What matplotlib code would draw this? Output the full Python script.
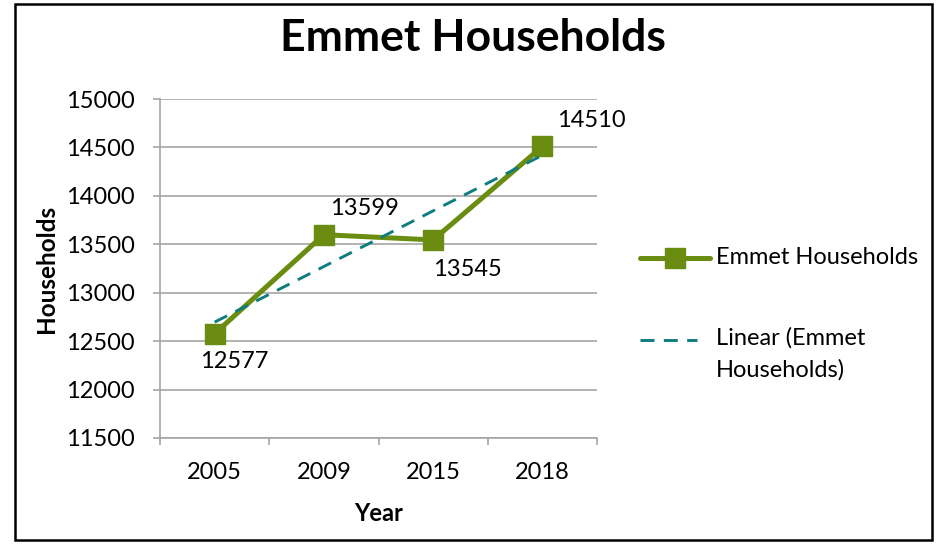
import numpy as np
import matplotlib
matplotlib.use("Agg")
import matplotlib.pyplot as plt
from matplotlib.patches import Rectangle
from matplotlib.lines import Line2D

plt.rcParams['font.family'] = ['Lato', 'DejaVu Sans']

years = ['2005', '2009', '2015', '2018']
households = [12577, 13599, 13545, 14510]
y_ticks = [11500, 12000, 12500, 13000, 13500, 14000, 14500, 15000]

# label offsets in points (dx, dy) from each marker
label_offsets = [(14, -20), (29, 19), (25, -21), (35, 19)]

green = '#6a8c10'
teal = '#0f7d7d'
grid_grey = '#a6a6a6'

fig = plt.figure(figsize=(9.46, 5.44), dpi=100)
ax = fig.add_axes([160 / 946, 1 - 438 / 544, 437 / 946, 339 / 544])

x = np.arange(len(years))
ax.plot(x, households, color=green, lw=3.6, marker='s', ms=14, zorder=3)

# linear trendline as Excel does it (on category index)
coef = np.polyfit(x, households, 1)
trend = np.polyval(coef, x)
ax.plot(x, trend, color=teal, lw=2.1, ls=(0, (4.8, 3.2)), zorder=4)

for xi, yi, (dx, dy) in zip(x, households, label_offsets):
    ax.annotate(str(yi), (xi, yi), xytext=(dx, dy), textcoords='offset points',
                ha='center', va='center', fontsize=17, color='black')

ax.set_xlim(-0.5, len(years) - 0.5)
ax.set_ylim(11500, 15000)
ax.set_yticks(y_ticks)
ax.set_yticklabels([str(v) for v in y_ticks])
ax.set_xticks(x)
ax.set_xticklabels(years)
ax.set_xticks(np.arange(-0.5, len(years)), minor=True)
ax.tick_params(axis='x', which='major', length=0, labelsize=17, pad=17)
ax.tick_params(axis='x', which='minor', length=5, color=grid_grey, width=1.2)
ax.tick_params(axis='y', length=5, color=grid_grey, width=1.2, labelsize=17, pad=13)

ax.grid(axis='y', color=grid_grey, lw=1.2)
ax.set_axisbelow(True)
for s in ['top', 'right']:
    ax.spines[s].set_visible(False)
for s in ['left', 'bottom']:
    ax.spines[s].set_color(grid_grey)
    ax.spines[s].set_linewidth(1.2)

ax.set_xlabel('Year', fontsize=17, fontweight='bold', labelpad=14)
ax.set_ylabel('Households', fontsize=17.5, fontweight='bold', labelpad=6)

fig.text(473 / 946, 1 - 38 / 544, 'Emmet Households', ha='center', va='center',
         fontsize=32, fontweight='bold')

# legend, laid out like Excel's
leg_y1 = 1 - 258 / 544
leg_y2 = 1 - 340 / 544
fig.add_artist(Line2D([640 / 946, 710 / 946], [leg_y1, leg_y1], color=green,
                      lw=3.6, solid_capstyle='round', transform=fig.transFigure))
fig.add_artist(Line2D([675 / 946], [leg_y1], color=green, marker='s', ms=14,
                      transform=fig.transFigure))
fig.add_artist(Line2D([640 / 946, 697 / 946], [leg_y2, leg_y2], color=teal,
                      lw=2.1, ls=(0, (4.8, 3.2)), transform=fig.transFigure))
fig.text(716 / 946, leg_y1, 'Emmet Households', ha='left', va='center', fontsize=17)
fig.text(716 / 946, leg_y2 + 13 / 544, 'Linear (Emmet\nHouseholds)', ha='left',
         va='top', fontsize=17, linespacing=1.6)

fig.add_artist(Rectangle((15 / 946, 4 / 544), 917 / 946, 536 / 544,
                         transform=fig.transFigure, fill=False,
                         edgecolor='black', lw=1.8))

fig.savefig('out.png', dpi=100)
